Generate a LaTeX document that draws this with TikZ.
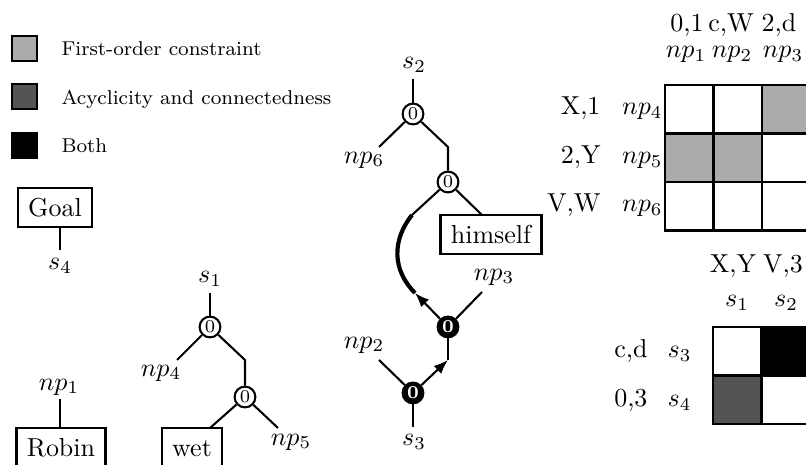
\documentclass[tikz,border=0pt]{standalone}
\usetikzlibrary{arrows.meta}
\definecolor{lightg}{gray}{0.67}
\definecolor{darkg}{gray}{0.33}
\begin{document}
\begin{tikzpicture}[x=0.385pt,y=-0.385pt,
  ln/.style={line width=0.8pt},
  thk/.style={line width=1.6pt},
  wbox/.style={draw,line width=0.8pt,inner xsep=4pt,inner ysep=0pt,minimum height=15pt,text height=6.9pt,text depth=0pt},
  zc/.style={circle,draw,line width=0.8pt,inner sep=0pt,minimum size=8pt,font=\scriptsize},
  bc/.style={zc,fill=black,text=white,font=\scriptsize\bfseries},
  lbl/.style={inner sep=0pt},
  hdr/.style={inner sep=0pt,anchor=base},
  rowl/.style={inner sep=0pt,anchor=base east},
  legsq/.style={draw,line width=0.8pt,minimum size=9.6pt,inner sep=0pt},
  legtxt/.style={font=\fontsize{7.7}{9}\selectfont,anchor=base west,inner sep=0pt},
  arr/.style={ln,-{Latex[length=5.5pt,width=4.2pt]}}]
\useasboundingbox (0,0) rectangle (806,465);
\clip (0,0) rectangle (806,465);

% legend
\node[legsq,fill=lightg] (k1sq) at (24.5,48.5) {};
\node[legtxt] (k1t) at (61,56) {First-order constraint};
\node[legsq,fill=darkg] (k2sq) at (24.5,96.5) {};
\node[legtxt] (k2t) at (61,105) {Acyclicity and connectedness};
\node[legsq,fill=black] (k3sq) at (24.5,145.5) {};
\node[legtxt] (k3t) at (61,153) {Both};

% Goal tree
\node[wbox] (goal) at (55,207.5) {Goal};
\coordinate (s4t) at (60,250);
\node[lbl] (s4) at (60,266) {$s_4$};
\draw[ln] (goal.south -| s4t) -- (s4t);

% Robin
\node[lbl] (np1) at (59,387) {$np_1$};
\coordinate (np1b) at (60,399);
\node[wbox] (robin) at (61,447.5) {Robin};
\draw[ln] (np1b) -- (np1b |- robin.north);

% s1 tree
\node[lbl] (s1) at (210,279) {$s_1$};
\coordinate (s1b) at (210,293);
\node[zc] (c11) at (210,327) {0};
\coordinate (np4e) at (177,360);
\node[lbl] (np4) at (161,373) {$np_4$};
\coordinate (j1) at (245,360);
\node[zc] (c12) at (245,397) {0};
\node[wbox] (wet) at (192,447.5) {wet};
\coordinate (wete) at (210,428);
\coordinate (np5e) at (278,428);
\node[lbl] (np5) at (291,442) {$np_5$};
\draw[ln] (s1b) -- (c11);
\draw[ln] (c11) -- (np4e);
\draw[ln] (c11) -- (j1) -- (c12);
\draw[ln] (c12) -- (wete);
\draw[ln] (c12) -- (np5e);

% s2 / s3 tree
\node[lbl] (s2) at (414,65) {$s_2$};
\coordinate (s2b) at (413,79);
\node[zc] (c21) at (413,114) {0};
\coordinate (np6e) at (379,147);
\node[lbl] (np6) at (364,160) {$np_6$};
\coordinate (j2) at (448,147);
\node[zc] (c22) at (448,182) {0};
\coordinate (k1) at (412,215);
\node[wbox] (him) at (491,234.5) {himself};
\coordinate (hime) at (482,215);
\node[bc] (b1) at (448,327) {0};
\coordinate (np3e) at (482,292);
\node[lbl] (np3) at (494,277) {$np_3$};
\coordinate (k2) at (415,293);
\coordinate (j3) at (448,360);
\node[bc] (b2) at (413,393) {0};
\coordinate (np2e) at (379,360);
\node[lbl] (np2) at (364,345) {$np_2$};
\coordinate (s3t) at (413,427);
\node[lbl] (s3) at (414,442) {$s_3$};

\draw[ln] (s2b) -- (c21);
\draw[ln] (c21) -- (np6e);
\draw[ln] (c21) -- (j2) -- (c22);
\draw[ln] (c22) -- (k1);
\draw[ln] (c22) -- (hime);
\draw[thk] (k1) .. controls (392,240) and (392,270) .. (k2);
\draw[arr] (b1) -- (k2);
\draw[ln] (b1) -- (np3e);
\draw[arr] (b2) -- (j3);
\draw[ln] (j3) -- (b1);
\draw[ln] (b2) -- (np2e);
\draw[ln] (b2) -- (s3t);

% upper matrix
\node[hdr] (h01) at (687,32) {0,1};
\node[hdr] (hcW) at (731,32) {c,W};
\node[hdr] (h2d) at (779,32) {2,d};
\node[hdr] (hnp1) at (686,58) {$np_1$};
\node[hdr] (hnp2) at (732,58) {$np_2$};
\node[hdr] (hnp3) at (783,58) {$np_3$};
\node[rowl] (rX1) at (601,115) {X,1};
\node[rowl] (r2Y) at (601,164) {2,Y};
\node[rowl] (rVW) at (601,212) {V,W};
\node[rowl] (rnp4) at (663,115) {$np_4$};
\node[rowl] (rnp5) at (663,164) {$np_5$};
\node[rowl] (rnp6) at (663,212) {$np_6$};
\fill[lightg] (762,85) rectangle (810.5,133.5);
\fill[lightg] (665,133.5) rectangle (713.5,182);
\fill[lightg] (713.5,133.5) rectangle (762,182);
\foreach \i in {1,2} {
  \draw[ln] (665+48.5*\i,85) -- (665+48.5*\i,230.5);
  \draw[ln] (665,85+48.5*\i) -- (810.5,85+48.5*\i);
}
\draw[ln] (665,85) rectangle (810.5,230.5);

% lower matrix
\node[hdr] (hXY) at (733,273) {X,Y};
\node[hdr] (hV3) at (783,273) {V,3};
\node[hdr] (hs1) at (737,307) {$s_1$};
\node[hdr] (hs2) at (786,307) {$s_2$};
\node[rowl] (rcd) at (648,358) {c,d};
\node[rowl] (r03) at (648,407) {0,3};
\node[rowl] (rs3) at (692,358) {$s_3$};
\node[rowl] (rs4) at (692,407) {$s_4$};
\fill[black] (761.5,327) rectangle (810,375.5);
\fill[darkg] (713,375.5) rectangle (761.5,424);
\draw[ln] (761.5,327) -- (761.5,424);
\draw[ln] (713,375.5) -- (810,375.5);
\draw[ln] (713,327) rectangle (810,424);
\end{tikzpicture}
\end{document}
